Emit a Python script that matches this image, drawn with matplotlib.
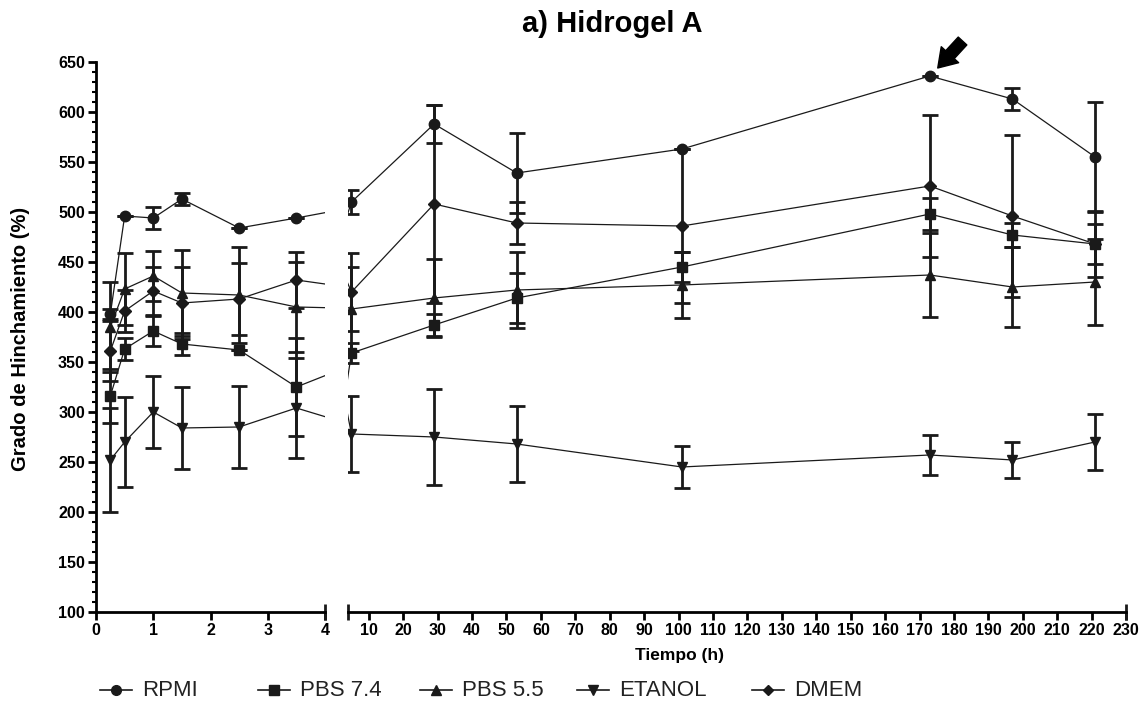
import numpy as np
import matplotlib.pyplot as plt
from matplotlib.lines import Line2D

plt.rcParams['font.family'] = ['Liberation Sans', 'DejaVu Sans']

# sampling times (h)
tiempo = [0.25, 0.5, 1, 1.5, 2.5, 3.5, 5, 29, 53, 101, 173, 197, 221]

# swelling degree (%) and SD for each medium
rpmi      = [398, 496, 494, 513, 484, 494, 510, 588, 539, 563, 636, 613, 555]
rpmi_sd   = [5, 0, 11, 6, 0, 0, 12, 19, 40, 0, 0, 11, 55]
pbs74     = [316, 363, 381, 368, 362, 325, 359, 387, 414, 445, 498, 477, 468]
pbs74_sd  = [27, 11, 15, 11, 0, 49, 10, 11, 25, 15, 16, 12, 20]
pbs55     = [385, 423, 436, 419, 417, 405, 403, 414, 422, 427, 437, 425, 430]
pbs55_sd  = [45, 36, 25, 43, 48, 45, 42, 39, 38, 33, 42, 40, 43]
etanol    = [252, 270, 300, 284, 285, 304, 278, 275, 268, 245, 257, 252, 270]
etanol_sd = [52, 45, 36, 41, 41, 50, 38, 48, 38, 21, 20, 18, 28]
dmem      = [361, 401, 421, 409, 413, 432, 420, 508, 489, 486, 526, 496, 468]
dmem_sd   = [30, 21, 24, 36, 36, 28, 39, 99, 21, 77, 71, 81, 33]

series = [('RPMI', rpmi, rpmi_sd, 'o', 7.5),
          ('PBS 7.4', pbs74, pbs74_sd, 's', 7.5),
          ('PBS 5.5', pbs55, pbs55_sd, '^', 7.5),
          ('ETANOL', etanol, etanol_sd, 'v', 7.5),
          ('DMEM', dmem, dmem_sd, 'D', 6)]

col = '#1a1a1a'
t = np.array(tiempo)

fig = plt.figure(figsize=(11.46, 7.07), dpi=100)
ax1 = fig.add_axes([0.0838, 0.1344, 0.1998, 0.7779])
ax2 = fig.add_axes([0.3037, 0.1344, 0.6789, 0.7779])

# each segment only gets the points inside its own range,
# the connecting line runs through all of them
for ax, sel in ((ax1, t <= 4), (ax2, t >= 4)):
    for name, y, sd, m, ms in series:
        y = np.array(y)
        sd = np.array(sd)
        ax.plot(t, y, '-', color=col, lw=0.9)
        ax.errorbar(t[sel], y[sel], yerr=sd[sel], fmt='none', ecolor=col,
                    elinewidth=2, capsize=5.5, capthick=2)
        ax.plot(t[sel], y[sel], ls='none', marker=m, ms=ms, color=col)
    ax.set_ylim(100, 650)
    ax.spines['top'].set_visible(False)
    ax.spines['right'].set_visible(False)
    ax.spines['bottom'].set_linewidth(2)
    ax.spines['left'].set_linewidth(2)
    ax.tick_params(axis='both', which='major', width=2, length=6,
                   labelsize=11.5, pad=2)

# left segment 0-4 h
ax1.set_xlim(0, 4)
ax1.set_xticks([0, 1, 2, 3, 4])
ax1.set_yticks(np.arange(100, 651, 50))
ax1.set_yticks(np.arange(100, 651, 10), minor=True)
ax1.tick_params(axis='y', which='minor', width=1.5, length=3)
ax1.plot([4], [0], marker='|', ms=12, mew=2, color=col,
         transform=ax1.get_xaxis_transform(), clip_on=False)

# right segment 4-230 h
ax2.set_xlim(4, 230)
ax2.set_xticks(np.arange(10, 231, 10))
ax2.spines['left'].set_visible(False)
ax2.tick_params(axis='y', left=False, labelleft=False)
ax2.plot([4, 230], [0, 0], marker='|', ms=12, mew=2, color=col, lw=0,
         transform=ax2.get_xaxis_transform(), clip_on=False)

for ax in (ax1, ax2):
    for lab in ax.get_xticklabels() + ax.get_yticklabels():
        lab.set_fontweight('bold')

# arrow marking the RPMI maximum
ax2.annotate('', xy=(175.3, 644), xytext=(182.5, 671), annotation_clip=False,
             arrowprops=dict(arrowstyle='simple,head_length=0.65,head_width=0.85,tail_width=0.42',
                             mutation_scale=20, color='black', shrinkA=0, shrinkB=0))

fig.text(0.534, 0.966, 'a) Hidrogel A', ha='center', va='center',
         fontsize=21, fontweight='bold')
fig.text(0.593, 0.073, 'Tiempo (h)', ha='center', va='center',
         fontsize=12.5, fontweight='bold')
fig.text(0.018, 0.52, 'Grado de Hinchamiento (%)', ha='center', va='center',
         rotation=90, fontsize=14.5, fontweight='bold')

# legend row along the bottom
W, H = fig.get_size_inches() * fig.dpi
leg_marker_x = [116, 274, 436, 593, 768]
leg_y = 1 - 690 / H
for (name, y, sd, m, ms), mx in zip(series, leg_marker_x):
    fig.add_artist(Line2D([(mx - 16) / W, (mx + 16) / W], [leg_y, leg_y],
                          color=col, lw=1.2, transform=fig.transFigure))
    fig.add_artist(Line2D([mx / W], [leg_y], marker=m, ms=ms - 0.5, color=col,
                          transform=fig.transFigure))
    fig.text((mx + 26) / W, leg_y, name, ha='left', va='center', fontsize=16,
             color='#222222')

fig.savefig('out.png', dpi=100)
